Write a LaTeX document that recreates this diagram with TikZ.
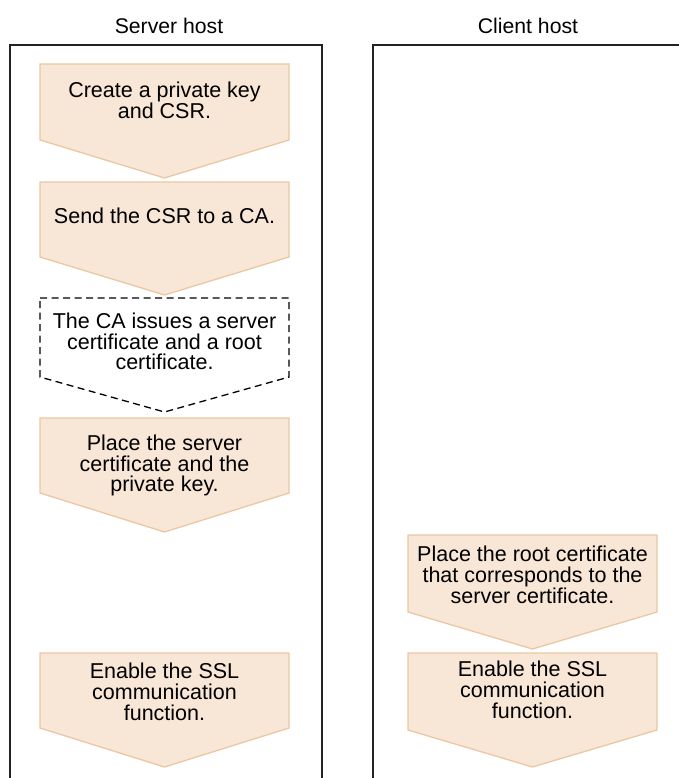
\documentclass[tikz,border=0pt]{standalone}
\usepackage{fontspec}
\setmainfont{Liberation Sans}
\definecolor{stepfill}{HTML}{F8E6D6}
\definecolor{stepline}{HTML}{EBC7A3}
\definecolor{laneline}{HTML}{222222}
\tikzset{
  stepbox/.style={fill=stepfill, draw=stepline, line width=1.3pt, line join=miter},
  dashbox/.style={fill=white, draw=black, line width=1.3pt, dash pattern=on 7pt off 4.5pt},
  lane/.style={draw=laneline, line width=2pt},
  steptext/.style={align=center, inner sep=0pt, font=\fontsize{21.5}{20.7}\selectfont, text=black},
  lanetitle/.style={inner sep=0pt, font=\fontsize{21.2}{20.5}\selectfont, text=black}
}
\newcommand{\stepshape}[5]{%
  \path[#1] (#2-124.5,#3) -- (#2+124.5,#3) -- (#2+124.5,#4) -- (#2,#5) -- (#2-124.5,#4) -- cycle;}
\begin{document}
\begin{tikzpicture}[x=1pt,y=-1pt]
\useasboundingbox (0,0) rectangle (679,778);
\begin{scope}
\clip (0,0) rectangle (679,778);
% lanes
\draw[lane] (9.5,800) -- (9.5,45.5) -- (322,45.5) -- (322,800);
\draw[lane] (373,800) -- (373,45.5) -- (700,45.5);
% server steps
\stepshape{stepbox}{164.5}{64}{140}{178}
\stepshape{stepbox}{164.5}{182}{257}{295}
\stepshape{dashbox}{164.5}{298}{377}{412}
\stepshape{stepbox}{164.5}{418}{493}{532}
\stepshape{stepbox}{164.5}{653}{728}{767}
% client steps
\stepshape{stepbox}{532.5}{535}{612}{649}
\stepshape{stepbox}{532.5}{653}{730}{767}
\end{scope}
% titles
\node[lanetitle] (srvtitle) at (169,25.5) {Server host};
\node[lanetitle] (clititle) at (528,25.5) {Client host};
% texts
\node[steptext] (s1) at (164.5,100) {Create a private key\\and CSR.};
\node[steptext] (s2) at (164.5,215.5) {Send the CSR to a CA.};
\node[steptext] (s3) at (164.5,341.5) {The CA issues a server\\certificate and a root\\certificate.};
\node[steptext] (s4) at (164.5,465.5) {Place the server\\certificate and the\\private key.};
\node[steptext] (s5) at (164.5,692) {Enable the SSL\\communication\\function.};
\node[steptext] (c1) at (532.5,575) {Place the root certificate\\that corresponds to the\\server certificate.};
\node[steptext] (c2) at (532.5,690) {Enable the SSL\\communication\\function.};
\end{tikzpicture}
\end{document}
